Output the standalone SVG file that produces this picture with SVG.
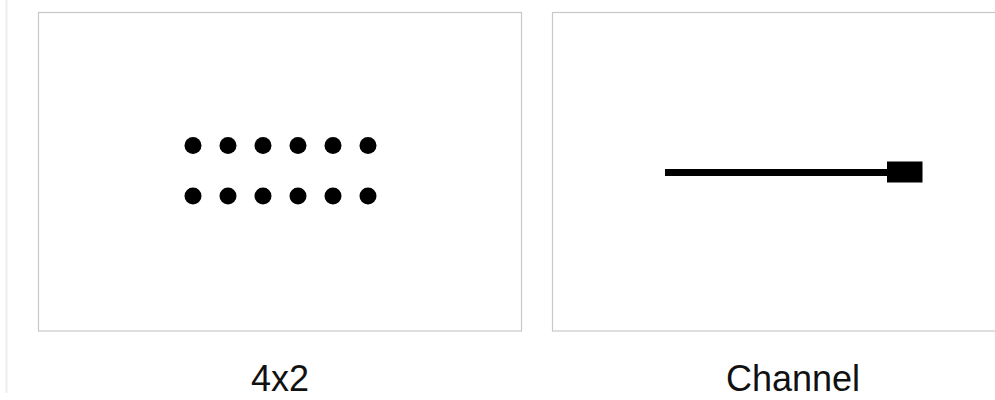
<svg xmlns="http://www.w3.org/2000/svg" width="995" height="400" viewBox="0 0 995 400">
  <style>
    .panel { fill: #ffffff; stroke: #c8c8c8; stroke-width: 1.2; }
    .dot { fill: #000000; }
    .label { font-family: "Liberation Sans", Arial, sans-serif; font-size: 36px; fill: #111111; text-anchor: middle; }
  </style>
  <rect width="995" height="400" fill="#ffffff"/>
  <line x1="6.5" y1="0" x2="6.5" y2="393" stroke="#eeeeee" stroke-width="2"/>
  <g id="panel-4x2">
    <rect class="panel" x="38.5" y="12.5" width="483" height="318.5"/>
    <g id="dots">
      <circle class="dot" cx="193" cy="145.5" r="8.5"/>
      <circle class="dot" cx="228" cy="145.5" r="8.5"/>
      <circle class="dot" cx="263" cy="145.5" r="8.5"/>
      <circle class="dot" cx="298" cy="145.5" r="8.5"/>
      <circle class="dot" cx="333" cy="145.5" r="8.5"/>
      <circle class="dot" cx="368" cy="145.5" r="8.5"/>
      <circle class="dot" cx="193" cy="196" r="8.5"/>
      <circle class="dot" cx="228" cy="196" r="8.5"/>
      <circle class="dot" cx="263" cy="196" r="8.5"/>
      <circle class="dot" cx="298" cy="196" r="8.5"/>
      <circle class="dot" cx="333" cy="196" r="8.5"/>
      <circle class="dot" cx="368" cy="196" r="8.5"/>
    </g>
    <text class="label" x="280" y="391">4x2</text>
  </g>
  <g id="panel-channel">
    <rect class="panel" x="552.5" y="12.5" width="483" height="318.5"/>
    <rect x="665" y="169" width="224" height="7" fill="#000000"/>
    <rect x="887" y="161.5" width="35.5" height="21" fill="#000000"/>
    <text class="label" x="793" y="391">Channel</text>
  </g>
</svg>
